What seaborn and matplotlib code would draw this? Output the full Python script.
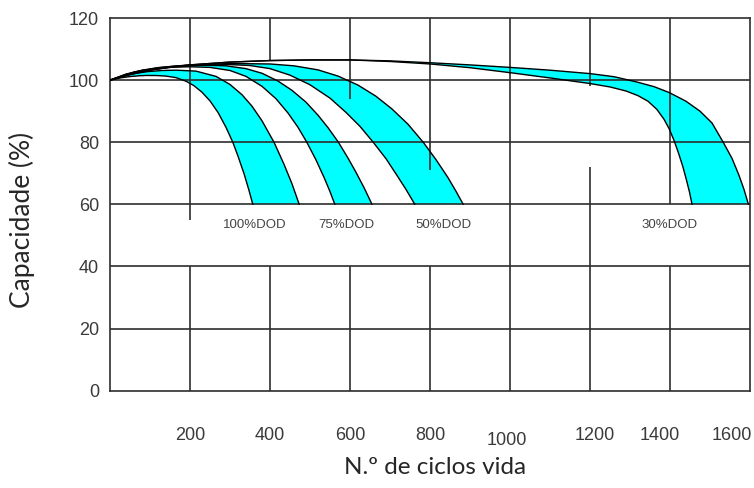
import matplotlib
matplotlib.use('Agg')
import matplotlib.pyplot as plt
import matplotlib.transforms as mtransforms
import seaborn as sns

# ciclos / capacidade (%)
cycle_ticks = [200, 400, 600, 800, 1000, 1200, 1400, 1600]
cap_ticks = [0, 20, 40, 60, 80, 100, 120]
band_names = ['100%DOD', '75%DOD', '50%DOD', '30%DOD']

dod100_in_x = [0, 25, 50, 75, 90, 115, 140, 165, 190, 210, 230, 250, 270, 290, 307, 320, 335, 347, 357]
dod100_in_y = [100, 100.7, 101.15, 101.42, 101.5, 101.48, 101.3, 100.8, 99.65, 98.2, 96.1, 93.3,
               89.6, 84.8, 80, 75.5, 69.9, 64.7, 60]
dod100_out_x = [0, 30, 60, 95, 130, 165, 215, 265, 300, 330, 355, 380, 410, 435, 455, 473]
dod100_out_y = [100, 101.2, 102.1, 102.75, 103.1, 103.2, 102.9, 101.2, 98.6, 95.3, 91.6, 86.9,
                80, 72.9, 66.6, 60]

dod75_in_x = [0, 40, 80, 120, 160, 200, 250, 300, 340, 380, 415, 445, 470, 492, 515, 535, 550, 562]
dod75_in_y = [100, 101.9, 103.1, 103.8, 104.2, 104.3, 104.1, 103.1, 101.2, 98, 94, 89.4, 84.8,
              80, 74.3, 68.7, 64.1, 60]
dod75_out_x = [0, 40, 80, 120, 160, 200, 240, 290, 340, 380, 420, 455, 490, 520, 545, 571, 595,
               615, 635, 655]
dod75_out_y = [100, 101.9, 103.2, 104, 104.5, 104.75, 104.8, 104.6, 103.7, 102.2, 99.7, 96.7,
               92.9, 88.7, 84.7, 80, 74.9, 70.3, 65.4, 60]

dod50_in_x = [0, 50, 100, 150, 200, 250, 300, 350, 400, 450, 500, 550, 590, 625, 658, 690, 715,
              740, 762]
dod50_in_y = [100, 102, 103.3, 104.1, 104.6, 104.9, 105, 104.7, 103.7, 101.6, 98.5, 94.2, 89.6,
              85.1, 80, 74.7, 69.8, 64.8, 60]
dod50_out_x = [0, 60, 120, 180, 240, 290, 330, 400, 460, 520, 570, 620, 665, 705, 745, 783, 815,
               845, 865, 883]
dod50_out_y = [100, 102.6, 104, 104.7, 105.1, 105.3, 105.3, 105.2, 104.6, 103.3, 101.3, 98.4,
               94.8, 90.7, 85.8, 80, 74.4, 68.6, 64.2, 60]

dod30_in_x = [0, 50, 100, 150, 200, 300, 400, 500, 600, 700, 800, 900, 1000, 1100, 1200, 1250,
              1290, 1320, 1345, 1367, 1385, 1398, 1410, 1421, 1432, 1441, 1449, 1455]
dod30_in_y = [100, 101.8, 103.2, 104.2, 104.9, 105.8, 106.3, 106.5, 106.5, 106.0, 105.2, 104,
              102.4, 100.7, 98.9, 97.8, 96.5, 95, 93.2, 90.6, 87.4, 84.3, 80.6, 76.6, 72.2,
              67.9, 63.8, 60]
dod30_out_x = [0, 50, 100, 150, 200, 300, 400, 500, 600, 700, 800, 900, 1000, 1100, 1200, 1260,
               1317, 1360, 1398, 1440, 1475, 1505, 1533, 1555, 1572, 1585, 1596]
dod30_out_y = [100, 101.8, 103.2, 104.2, 104.9, 105.8, 106.3, 106.5, 106.5, 106.2, 105.6, 104.9,
               104.1, 103.2, 102.1, 101.1, 99.4, 97.9, 96, 93.2, 90, 86.2, 80, 74.8, 69.5,
               64.8, 60]

bands = [
    (dod100_in_x, dod100_in_y, dod100_out_x, dod100_out_y),
    (dod75_in_x, dod75_in_y, dod75_out_x, dod75_out_y),
    (dod50_in_x, dod50_in_y, dod50_out_x, dod50_out_y),
    (dod30_in_x, dod30_in_y, dod30_out_x, dod30_out_y),
]

sns.set_style('white')
tick_font = ['Liberation Sans', 'DejaVu Sans']

fig = plt.figure(figsize=(7.54, 4.88), dpi=100)
ax = fig.add_axes([0.1459, 0.1994, 0.8488, 0.7637])

# grid drawn by hand, the original has gaps in some of the verticals
grid_col = '#2e2e2e'
for yv in [20, 40, 60, 80, 100]:
    ax.hlines(yv, 0, 1600, color=grid_col, lw=1.2, zorder=3)
vgaps = {200: [(0, 40), (55, 120)], 400: [(0, 40), (106, 120)],
         600: [(0, 40), (94, 120)], 800: [(0, 40), (71, 120)],
         1000: [(0, 120)], 1200: [(0, 72), (98, 120)], 1400: [(0, 40), (60, 120)]}
for xv, segs in vgaps.items():
    for lo, hi in segs:
        ax.vlines(xv, lo, hi, color=grid_col, lw=1.2, zorder=3)

for xin, yin, xout, yout in bands:
    ax.fill(list(xout) + list(xin)[::-1], list(yout) + list(yin)[::-1],
            color='#00ffff', lw=0, zorder=2)
    sns.lineplot(x=xin, y=yin, color='black', lw=1.0, ax=ax, zorder=4)
    sns.lineplot(x=xout, y=yout, color='black', lw=1.0, ax=ax, zorder=4)

for name, xl in zip(band_names, [362, 590, 834, 1400]):
    ax.text(xl, 53.5, name, ha='center', va='center', fontsize=9.5,
            color='#444444', family=tick_font, zorder=5)

ax.set_xlim(0, 1600)
ax.set_ylim(0, 120)
ax.set_xticks(cycle_ticks)
ax.set_xticklabels([str(c) for c in cycle_ticks], family=tick_font, fontsize=13, color='#3a3a3a')
ax.set_yticks(cap_ticks)
ax.set_yticklabels([str(c) for c in cap_ticks], family=tick_font, fontsize=13, color='#3a3a3a')
ax.tick_params(axis='x', length=0, pad=26)
ax.tick_params(axis='y', length=0, pad=8)

# the scanned labels are not quite centred on their lines
shifts = {1000: (-3, -5), 1200: (5, 0), 1400: (-10, 0), 1600: (-18, 0)}
for lab, c in zip(ax.get_xticklabels(), cycle_ticks):
    dx, dy = shifts.get(c, (0, 0))
    lab.set_transform(lab.get_transform() +
                      mtransforms.ScaledTranslation(dx / 100, dy / 100, fig.dpi_scale_trans))

for s in ax.spines.values():
    s.set_color(grid_col)
    s.set_linewidth(1.2)

ax.set_xlabel('N.º de ciclos vida', family='Lato', fontsize=17.5)
ax.set_ylabel('Capacidade (%)', family='Lato', fontsize=19)
ax.xaxis.set_label_coords(0.508, -0.205)
ax.xaxis.label.set_va('center')
ax.yaxis.set_label_coords(-0.1375, 0.458)
ax.yaxis.label.set_va('center')

fig.savefig('out.png', dpi=100)
